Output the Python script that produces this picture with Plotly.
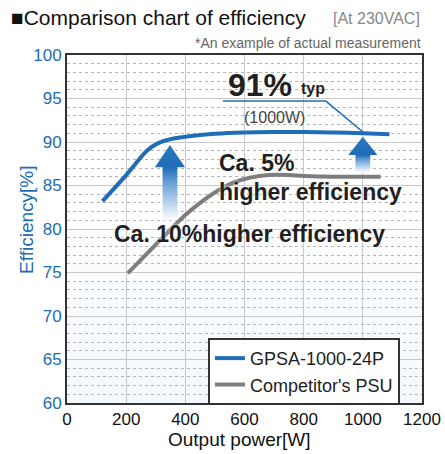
import plotly.graph_objects as go

# ---- data ----
gpsa_power = [120, 200, 270, 310, 360, 420, 500, 600, 700, 800, 900, 1000, 1090]
gpsa_eff = [83.2, 86.2, 89.0, 89.9, 90.4, 90.7, 90.95, 91.1, 91.15, 91.15, 91.1, 91.0, 90.9]
comp_power = [205, 300, 400, 450, 500, 560, 620, 680, 750, 800, 900, 1000, 1060]
comp_eff = [74.9, 78.2, 81.6, 83.0, 84.2, 85.3, 85.9, 86.2, 86.2, 86.1, 86.0, 86.0, 86.0]
series_names = ["GPSA-1000-24P", "Competitor's PSU"]
x_ticks = [0, 200, 400, 600, 800, 1000, 1200]
y_ticks = [60, 65, 70, 75, 80, 85, 90, 95, 100]

BLUE = "#1f6db6"
GRAY = "#7d7d7d"
YBLUE = "#1d6cb4"
FONT = "Liberation Sans, Arial, sans-serif"

fig = go.Figure()

# background faint blue gradient below 80%
n = 10
shapes = []
for i in range(n):
    y0 = 60 + 20 * i / n
    y1 = 60 + 20 * (i + 1) / n
    a = 0.07 * (1 - i / n) + 0.015
    shapes.append(dict(type="rect", xref="x", yref="y", x0=0, x1=1200, y0=y0, y1=y1,
                       fillcolor=f"rgba(120,180,235,{a:.3f})", line=dict(width=0), layer="below"))

fig.add_trace(go.Scatter(x=gpsa_power, y=gpsa_eff, mode="lines", name=series_names[0],
                         line=dict(color=BLUE, width=4, shape="spline", smoothing=0.8)))
fig.add_trace(go.Scatter(x=comp_power, y=comp_eff, mode="lines", name=series_names[1],
                         line=dict(color=GRAY, width=4, shape="spline", smoothing=0.8)))


def arrow(xc, y_bot, y_head, y_tip, hw_shaft, hw_head):
    xs = [xc - hw_shaft, xc - hw_shaft, xc - hw_head, xc, xc + hw_head, xc + hw_shaft, xc + hw_shaft, xc - hw_shaft]
    ys = [y_bot, y_head, y_head, y_tip, y_head, y_head, y_bot, y_bot]
    frac = (y_head - y_bot) / (y_tip - y_bot)
    fig.add_trace(go.Scatter(
        x=xs, y=ys, mode="lines", fill="toself", line=dict(width=0, color="rgba(0,0,0,0)"),
        fillgradient=dict(type="vertical", start=y_bot, stop=y_tip,
                          colorscale=[[0, "rgba(255,255,255,1)"], [frac * 0.75, "#5f9ad3"],
                                      [frac, BLUE], [1, "#2a78c2"]]),
        showlegend=False, hoverinfo="skip"))


arrow(348, 81.0, 87.1, 89.65, 25, 51)
arrow(1000, 86.5, 88.5, 90.6, 25, 49)

# pointer line for 91% typ
shapes.append(dict(type="path", xref="x", yref="y",
                   path="M 527 94.7 L 875 94.7 L 1000 91.15",
                   line=dict(color=BLUE, width=1.5)))

ann_color = "#231f20"
annotations = [
    dict(text="■Comparison chart of efficiency", xref="paper", yref="paper",
         x=-0.163, y=1.107, xanchor="left", yanchor="middle", showarrow=False,
         font=dict(size=21, color="#111", family=FONT)),
    dict(text="[At 230VAC]", xref="paper", yref="paper",
         x=1.0, y=1.105, xanchor="right", yanchor="middle", showarrow=False,
         font=dict(size=16, color="#888", family=FONT)),
    dict(text="*An example of actual measurement", xref="paper", yref="paper",
         x=1.003, y=1.035, xanchor="right", yanchor="middle", showarrow=False,
         font=dict(size=14, color="#666", family=FONT)),
    dict(text="Efficiency[%]", xref="paper", yref="paper", x=-0.1127, y=0.526,
         xanchor="center", yanchor="middle", textangle=-90, showarrow=False,
         font=dict(size=19, color=YBLUE, family=FONT)),
    dict(text="Output power[W]", xref="paper", yref="paper", x=0.487, y=-0.106,
         xanchor="center", yanchor="middle", showarrow=False,
         font=dict(size=19, color="#111", family=FONT)),
    dict(text="<b>91%</b>", x=537, y=96.6, xanchor="left", yanchor="middle", showarrow=False,
         font=dict(size=32, color=ann_color, family=FONT)),
    dict(text="<b>typ</b>", x=784, y=96.1, xanchor="left", yanchor="middle", showarrow=False,
         font=dict(size=16, color=ann_color, family=FONT)),
    dict(text="(1000W)", x=703, y=92.87, xanchor="center", yanchor="middle", showarrow=False,
         font=dict(size=16, color="#444", family=FONT)),
    dict(text="<b>Ca. 5%</b>", x=507, y=87.6, xanchor="left", yanchor="middle", showarrow=False,
         font=dict(size=23, color=ann_color, family=FONT, shadow="0px 0px 3px white")),
    dict(text="<b>higher efficiency</b>", x=507, y=84.25, xanchor="left", yanchor="middle", showarrow=False,
         font=dict(size=23, color=ann_color, family=FONT, shadow="0px 0px 3px white")),
    dict(text="<b>Ca. 10%higher efficiency</b>", x=152, y=79.43, xanchor="left", yanchor="middle",
         showarrow=False, font=dict(size=23, color=ann_color, family=FONT, shadow="0px 0px 3px white")),
]

fig.update_layout(
    width=445, height=454,
    margin=dict(l=67, r=23, t=55, b=51, autoexpand=False),
    paper_bgcolor="white", plot_bgcolor="white",
    font=dict(family=FONT, size=16, color="#111"),
    shapes=shapes, annotations=annotations,
    legend=dict(x=0.397, y=0.187, xanchor="left", yanchor="top",
                bgcolor="white", bordercolor="#333", borderwidth=2,
                font=dict(size=18, color="#222"), tracegroupgap=0, itemwidth=30),
    showlegend=True,
)
fig.update_xaxes(range=[0, 1200], tickvals=x_ticks, ticktext=[str(v) for v in x_ticks],
                 showgrid=True, gridcolor="#c8c8c8", gridwidth=1, automargin=False,
                 showline=True, linecolor="#333", linewidth=2, mirror=True,
                 ticks="", zeroline=False, tickfont=dict(size=17, color="#111"))
fig.update_yaxes(range=[60, 100], tickvals=y_ticks, ticktext=[str(v) for v in y_ticks],
                 showgrid=True, gridcolor="#c8c8c8", gridwidth=1, automargin=False,
                 minor=dict(dtick=1, showgrid=True, gridcolor="#b5b5b5", griddash="dot", gridwidth=1),
                 showline=True, linecolor="#333", linewidth=2, mirror=True,
                 ticks="", zeroline=False, tickfont=dict(size=17, color=YBLUE))

fig.write_html("out.html", config={"displayModeBar": False},
               post_script="document.body.style.margin='0';document.body.style.overflow='hidden';")
